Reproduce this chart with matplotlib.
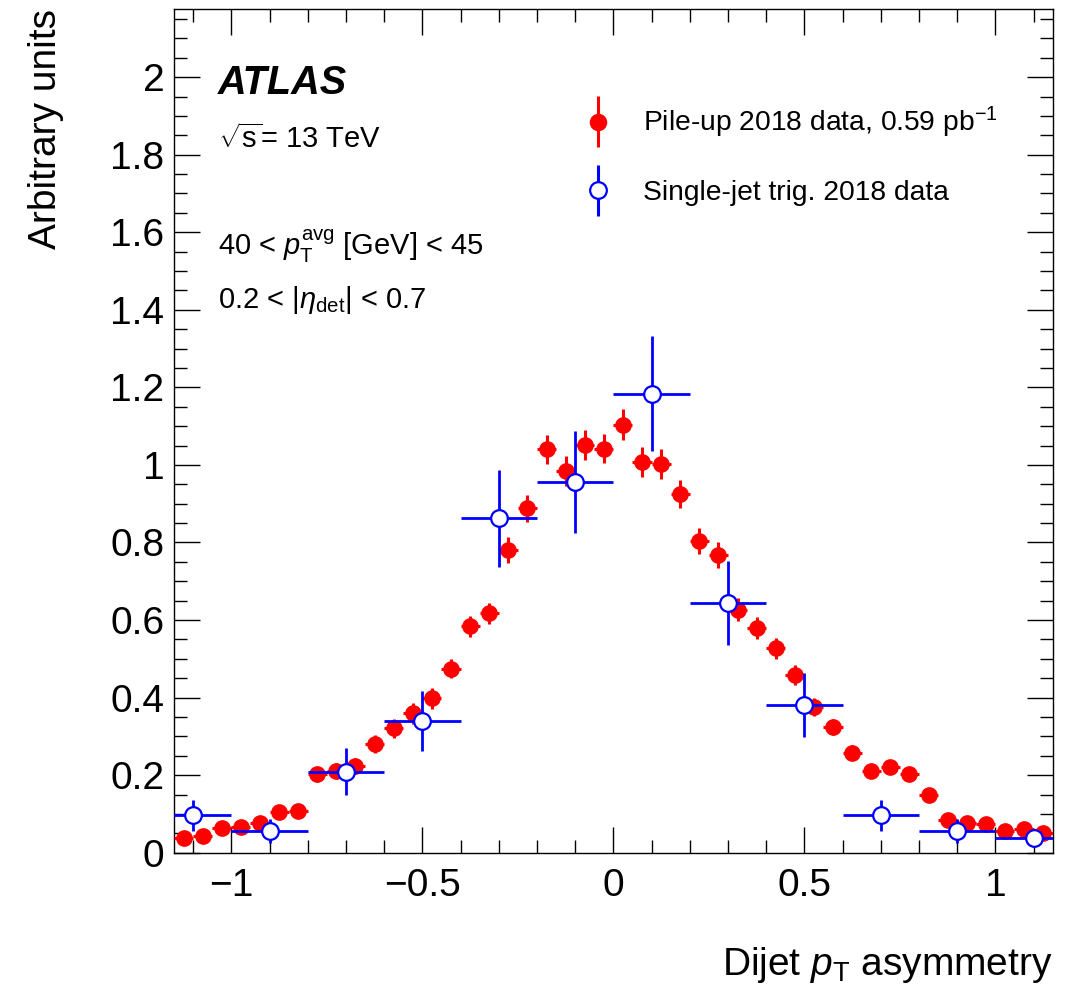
import numpy as np
import matplotlib
matplotlib.use("Agg")
import matplotlib.pyplot as plt
from matplotlib.ticker import MultipleLocator, FuncFormatter
from matplotlib.container import ErrorbarContainer
from matplotlib.legend_handler import HandlerErrorbar
from matplotlib.lines import Line2D
from matplotlib.collections import LineCollection

plt.rcParams['font.family'] = ['Liberation Sans', 'DejaVu Sans']
plt.rcParams['mathtext.fontset'] = 'custom'
plt.rcParams['mathtext.rm'] = 'Liberation Sans'
plt.rcParams['mathtext.it'] = 'Liberation Sans:italic'
plt.rcParams['mathtext.bf'] = 'Liberation Sans:bold'

# ---------------- data ----------------
# Pile-up 2018 data (bins of width 0.05)
red_x = np.round(np.arange(-1.125, 1.126, 0.05), 3)
red_y = [0.037, 0.043, 0.063, 0.067, 0.076, 0.106, 0.107, 0.202, 0.211, 0.223,
         0.280, 0.321, 0.359, 0.398, 0.475, 0.584, 0.617, 0.780, 0.888, 1.040,
         0.984, 1.051, 1.042, 1.104, 1.008, 1.002, 0.926, 0.803, 0.767, 0.627,
         0.580, 0.527, 0.458, 0.376, 0.325, 0.258, 0.211, 0.220, 0.202, 0.149,
         0.084, 0.076, 0.073, 0.057, 0.060, 0.050]
red_yerr = [0.008, 0.009, 0.011, 0.011, 0.012, 0.014, 0.014, 0.019, 0.020, 0.020,
            0.023, 0.024, 0.026, 0.027, 0.025, 0.027, 0.027, 0.033, 0.035, 0.037,
            0.038, 0.038, 0.037, 0.039, 0.038, 0.039, 0.036, 0.034, 0.034, 0.030,
            0.028, 0.027, 0.025, 0.023, 0.021, 0.019, 0.017, 0.017, 0.016, 0.014,
            0.011, 0.010, 0.010, 0.009, 0.009, 0.008]
red_xerr = 0.025

# Single-jet trigger 2018 data (bins of width 0.2)
blue_x = [-1.1, -0.9, -0.7, -0.5, -0.3, -0.1, 0.1, 0.3, 0.5, 0.7, 0.9, 1.1]
blue_y = [0.097, 0.057, 0.209, 0.339, 0.862, 0.956, 1.184, 0.643, 0.381, 0.097, 0.057, 0.039]
blue_yerr = [0.040, 0.031, 0.060, 0.078, 0.125, 0.132, 0.148, 0.108, 0.082, 0.040, 0.031, 0.022]
blue_xerr = 0.1

red_label = "Pile-up 2018 data, 0.59 pb$^{-1}$"
blue_label = "Single-jet trig. 2018 data"
xlabel = r"Dijet $p_{\mathrm{T}}$ asymmetry"
ylabel = "Arbitrary units"

# ---------------- figure ----------------
fig = plt.figure(figsize=(10.77, 9.9), dpi=100)
ax = fig.add_axes([0.1616, 0.1387, 0.8158, 0.8519])

ax.errorbar(blue_x, blue_y, xerr=blue_xerr, yerr=blue_yerr, fmt='o', color='#0000ff',
            mfc='white', mec='#0000ff', mew=1.6, ms=12, elinewidth=2.0, capsize=0,
            zorder=4)
ax.errorbar(red_x, red_y, xerr=red_xerr, yerr=red_yerr, fmt='o', color='#ff0000',
            ms=11, elinewidth=2.2, capsize=0, zorder=3)

ax.set_xlim(-1.15, 1.15)
ax.set_ylim(0, 2.175)

ax.xaxis.set_major_locator(MultipleLocator(0.5))
ax.xaxis.set_minor_locator(MultipleLocator(0.1))
ax.yaxis.set_major_locator(MultipleLocator(0.2))
ax.yaxis.set_minor_locator(MultipleLocator(0.05))
fmt = FuncFormatter(lambda v, p: ("%g" % round(v, 3)).replace('-', '\u2212'))
ax.xaxis.set_major_formatter(fmt)
ax.yaxis.set_major_formatter(fmt)

ax.tick_params(which='both', direction='in', top=True, right=True, width=1.0,
               labelsize=28)
ax.tick_params(which='major', length=19)
ax.tick_params(which='minor', length=9.5)
ax.tick_params(axis='x', pad=11)
ax.tick_params(axis='y', pad=7)
for s in ax.spines.values():
    s.set_linewidth(1.0)

ax.set_xlabel(xlabel, fontsize=28, loc='right')
ax.xaxis.set_label_coords(1.0, -0.110)
ax.set_ylabel(ylabel, fontsize=28, loc='top')
ax.yaxis.set_label_coords(-0.125, 1.0)

# annotations
ax.text(0.05, 0.8998, "ATLAS", transform=ax.transAxes, fontsize=28.5,
        fontweight='bold', fontstyle='italic', va='baseline')
ax.text(0.05, 0.8355, r"$\sqrt{\mathrm{s}}$= 13 TeV", transform=ax.transAxes, fontsize=21,
        va='baseline')
ax.text(0.05, 0.7087, r"40 < $p_{\mathrm{T}}^{\mathrm{avg}}$ [GeV] < 45",
        transform=ax.transAxes, fontsize=21, va='baseline')
ax.text(0.05, 0.6459, r"0.2 < |$\eta_{\mathrm{det}}$| < 0.7",
        transform=ax.transAxes, fontsize=21, va='baseline')

# legend with vertical-only error bars
def proxy(color, mfc, label):
    ln = Line2D([], [], marker='o', ls='none', color=color, mfc=mfc, mec=color,
                ms=11 if mfc == color else 12, mew=1.6)
    bc = LineCollection([], colors=color, linewidths=2.2)
    return ErrorbarContainer((ln, (), (bc,)), has_xerr=False, has_yerr=True,
                             label=label)

h_red = proxy('#ff0000', '#ff0000', red_label)
h_blue = proxy('#0000ff', 'white', blue_label)
ax.legend([h_red, h_blue], [red_label, blue_label], loc='upper left',
          bbox_to_anchor=(0.4666, 0.8866), frameon=False, fontsize=20.3,
          borderpad=0, borderaxespad=0, handlelength=1.0, handletextpad=1.1,
          labelspacing=1.42,
          handler_map={ErrorbarContainer: HandlerErrorbar(yerr_size=0.9)})

fig.savefig("out.png", dpi=100)
